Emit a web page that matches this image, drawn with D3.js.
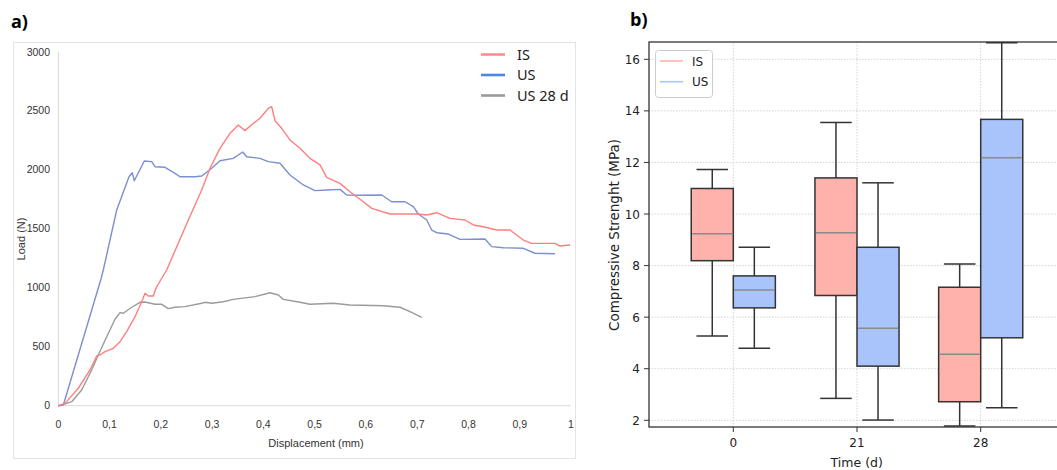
<!DOCTYPE html>
<html>
<head>
<meta charset="utf-8">
<script src="https://cdn.jsdelivr.net/npm/d3@7"></script>
<style>
  body { margin: 0; background: #fff; }
  svg { display: block; }
</style>
</head>
<body>
<div id="chart"></div>
<script>
// ---- panel a data : load vs displacement ----
const isDisp = [0, 0.0131, 0.039, 0.0618, 0.0749, 0.0813, 0.0911, 0.1073, 0.1203, 0.1334, 0.1496, 0.1627, 0.1691, 0.1755, 0.1853, 0.1919, 0.2114, 0.2536, 0.2797, 0.2959, 0.3154, 0.3349, 0.3511, 0.3641, 0.3803, 0.3934, 0.4096, 0.4162, 0.4227, 0.4357, 0.4519, 0.4714, 0.4909, 0.5104, 0.5235, 0.5494, 0.5689, 0.5949, 0.6113, 0.647, 0.7022, 0.7186, 0.7381, 0.764, 0.7933, 0.8094, 0.829, 0.8551, 0.881, 0.907, 0.9233, 0.9688, 0.9772, 0.9981]
const isLoad = [0, 20, 148, 303, 422, 430, 458, 487, 543, 628, 755, 882, 953, 930, 930, 1009, 1151, 1575, 1830, 2014, 2183, 2310, 2381, 2333, 2395, 2438, 2522, 2536, 2417, 2353, 2254, 2183, 2098, 2042, 1937, 1886, 1815, 1730, 1674, 1626, 1626, 1617, 1637, 1589, 1575, 1533, 1518, 1490, 1490, 1405, 1377, 1377, 1355, 1363]

const usDisp = [0, 0.0098, 0.0827, 0.0878, 0.1139, 0.1379, 0.1443, 0.1482, 0.1677, 0.1822, 0.1886, 0.2081, 0.2276, 0.2374, 0.2666, 0.2797, 0.2992, 0.3154, 0.3413, 0.3597, 0.3675, 0.3934, 0.4096, 0.4324, 0.4519, 0.4779, 0.5007, 0.5235, 0.5494, 0.5625, 0.5885, 0.6308, 0.6503, 0.6762, 0.6924, 0.7022, 0.7186, 0.7283, 0.7381, 0.7607, 0.7835, 0.8323, 0.8453, 0.868, 0.907, 0.9298, 0.9688]
const usLoad = [0, 6, 1066, 1151, 1660, 1942, 1976, 1908, 2075, 2070, 2027, 2022, 1971, 1942, 1942, 1948, 2014, 2078, 2098, 2152, 2112, 2098, 2070, 2056, 1957, 1872, 1824, 1830, 1835, 1787, 1785, 1787, 1730, 1730, 1688, 1626, 1575, 1490, 1467, 1456, 1411, 1414, 1349, 1340, 1335, 1293, 1289]

const us28Disp = [0, 0.0066, 0.0261, 0.0456, 0.0651, 0.078, 0.0944, 0.1106, 0.1203, 0.1268, 0.1432, 0.1594, 0.1691, 0.1886, 0.2017, 0.2146, 0.2276, 0.2471, 0.2797, 0.2861, 0.2992, 0.3218, 0.3413, 0.3837, 0.4129, 0.4291, 0.4389, 0.4714, 0.4909, 0.5364, 0.5689, 0.6339, 0.6665, 0.686, 0.7088]
const us28Load = [0, 6, 34, 133, 303, 430, 585, 733, 789, 784, 835, 877, 880, 860, 860, 823, 835, 840, 869, 877, 869, 882, 902, 925, 958, 939, 902, 877, 860, 869, 854, 848, 835, 797, 750]

const lineNames = ["IS", "US", "US 28 d"]
const xTicksA = [0, 0.1, 0.2, 0.3, 0.4, 0.5, 0.6, 0.7, 0.8, 0.9, 1]
const yTicksA = [0, 500, 1000, 1500, 2000, 2500, 3000]

// ---- panel b data : compressive strength boxes ----
const timeCats = ["0", "21", "28"]
const boxGroups = ["IS", "US"]
// [lower whisker, Q1, median, Q3, upper whisker]
const isBoxes = [[5.27, 8.19, 9.23, 10.99, 11.73], [2.85, 6.84, 9.27, 11.40, 13.55], [1.78, 2.72, 4.56, 7.16, 8.06]]
const usBoxes = [[4.79, 6.36, 7.05, 7.60, 8.71], [2.01, 4.10, 5.57, 8.71, 11.21], [2.49, 5.20, 12.18, 13.67, 16.64]]
const yTicksB = [2, 4, 6, 8, 10, 12, 14, 16]

const W = 1057, H = 470
const svg = d3.select("#chart").append("svg")
  .attr("width", W).attr("height", H)

const narrow = "'Liberation Sans Narrow', 'Arial Narrow', 'Liberation Sans', sans-serif"
const dv = "'DejaVu Sans', sans-serif"

// ================= panel a =================
svg.append("text").attr("x", 11).attr("y", 28)
  .attr("font-family", "'Open Sans', 'Liberation Sans', sans-serif")
  .attr("font-weight", "bold").attr("font-size", "18px").text("a)")

svg.append("rect").attr("x", 13.5).attr("y", 42.5).attr("width", 562).attr("height", 416)
  .attr("fill", "none").attr("stroke", "#e3e3e3")

const xa = d3.scaleLinear().domain([0, 1]).range([58.3, 571])
const ya = d3.scaleLinear().domain([0, 3000]).range([405.7, 52])

const ga = svg.append("g")

ga.append("line").attr("x1", xa(0)).attr("x2", xa(0)).attr("y1", ya(3000)).attr("y2", ya(0))
  .attr("stroke", "#d9d9d9")
ga.append("line").attr("x1", xa(0)).attr("x2", xa(1)).attr("y1", ya(0)).attr("y2", ya(0))
  .attr("stroke", "#d9d9d9")

ga.selectAll(".ylab").data(yTicksA).enter().append("text")
  .attr("x", 50).attr("y", d => ya(d) + 3.5)
  .attr("text-anchor", "end").attr("font-family", narrow).attr("font-size", "10.5px")
  .attr("fill", "#333").text(d => d)

ga.selectAll(".xlab").data(xTicksA).enter().append("text")
  .attr("x", d => xa(d)).attr("y", 428)
  .attr("text-anchor", "middle").attr("font-family", narrow).attr("font-size", "10.5px")
  .attr("fill", "#333").text(d => String(d).replace(".", ","))

ga.append("text").attr("x", 316).attr("y", 447).attr("text-anchor", "middle")
  .attr("font-family", narrow).attr("font-size", "11px").attr("fill", "#333")
  .text("Displacement (mm)")

ga.append("text").attr("transform", "translate(25,239) rotate(-90)").attr("text-anchor", "middle")
  .attr("font-family", narrow).attr("font-size", "11px").attr("fill", "#333")
  .text("Load (N)")

const lineA = d3.line().x(d => xa(d[0])).y(d => ya(d[1]))
const seriesA = [
  {name: lineNames[2], disp: us28Disp, load: us28Load, color: "#9a9a9a", legend: "#9a9a9a"},
  {name: lineNames[1], disp: usDisp, load: usLoad, color: "#7b8fd2", legend: "#4f86e6"},
  {name: lineNames[0], disp: isDisp, load: isLoad, color: "#ff7f7f", legend: "#ff8c8c"}
]
seriesA.forEach(s => {
  ga.append("path").datum(d3.zip(s.disp, s.load))
    .attr("d", lineA).attr("fill", "none")
    .attr("stroke", s.color).attr("stroke-width", 1.4).attr("stroke-linejoin", "round")
})

const legA = ga.append("g")
lineNames.forEach((n, i) => {
  const s = seriesA.find(t => t.name === n)
  legA.append("line").attr("x1", 481).attr("x2", 505).attr("y1", 54.5 + i * 20.5).attr("y2", 54.5 + i * 20.5)
    .attr("stroke", s.legend).attr("stroke-width", 2.6)
  legA.append("text").attr("x", 517).attr("y", 59.5 + i * 20.5)
    .attr("font-family", "'Noto Sans', 'Open Sans', sans-serif").attr("font-size", "14.5px")
    .attr("fill", "#222").text(n)
})

// ================= panel b =================
svg.append("text").attr("x", 630).attr("y", 26)
  .attr("font-family", "'Open Sans', 'Liberation Sans', sans-serif")
  .attr("font-weight", "bold").attr("font-size", "18px").text("b)")

const plotL = 649, plotT = 42, plotB = 427, plotR = 1075
const xb = d3.scalePoint().domain(timeCats).range([733.3, 980.7])
const yb = d3.scaleLinear().domain([2, 16]).range([420.3, 59.3])
const step = xb.step()
const bw = step * 0.34
const capW = bw * 0.75

const gb = svg.append("g")
gb.append("clipPath").attr("id", "clipb").append("rect")
  .attr("x", plotL).attr("y", plotT).attr("width", plotR - plotL).attr("height", plotB - plotT)

// grid
gb.selectAll(".gy").data(yTicksB).enter().append("line")
  .attr("x1", plotL).attr("x2", plotR).attr("y1", d => yb(d)).attr("y2", d => yb(d))
  .attr("stroke", "#c8c8c8").attr("stroke-width", 0.8).attr("stroke-dasharray", "1.5,1.5")
gb.selectAll(".gx").data(timeCats).enter().append("line")
  .attr("x1", d => xb(d)).attr("x2", d => xb(d)).attr("y1", plotT).attr("y2", plotB)
  .attr("stroke", "#c8c8c8").attr("stroke-width", 0.8).attr("stroke-dasharray", "1.5,1.5")

const boxColors = {IS: "#ffb1ab", US: "#a9c4fb"}
const boxes = gb.append("g").attr("clip-path", "url(#clipb)")
boxGroups.forEach((grp, gi) => {
  const stats = grp === "IS" ? isBoxes : usBoxes
  stats.forEach((st, ci) => {
    const cx = xb(timeCats[ci])
    const x0 = gi === 0 ? cx - bw : cx
    const mid = x0 + bw / 2
    const g = boxes.append("g")
    g.append("line").attr("x1", mid).attr("x2", mid).attr("y1", yb(st[0])).attr("y2", yb(st[1]))
      .attr("stroke", "#333").attr("stroke-width", 1.5)
    g.append("line").attr("x1", mid).attr("x2", mid).attr("y1", yb(st[3])).attr("y2", yb(st[4]))
      .attr("stroke", "#333").attr("stroke-width", 1.5)
    g.selectAll(".cap").data([st[0], st[4]]).enter().append("line")
      .attr("x1", mid - capW / 2).attr("x2", mid + capW / 2)
      .attr("y1", d => yb(d)).attr("y2", d => yb(d))
      .attr("stroke", "#333").attr("stroke-width", 1.5)
    g.append("rect").attr("x", x0).attr("y", yb(st[3]))
      .attr("width", bw).attr("height", yb(st[1]) - yb(st[3]))
      .attr("fill", boxColors[grp]).attr("stroke", "#333").attr("stroke-width", 1.5)
    g.append("line").attr("x1", x0 + 1).attr("x2", x0 + bw - 1)
      .attr("y1", yb(st[2])).attr("y2", yb(st[2]))
      .attr("stroke", "#8a8a8a").attr("stroke-width", 1.5)
  })
})

// frame
gb.append("rect").attr("x", plotL).attr("y", plotT).attr("width", plotR - plotL).attr("height", plotB - plotT)
  .attr("fill", "none").attr("stroke", "#333").attr("stroke-width", 1.3)

// ticks
gb.selectAll(".ty").data(yTicksB).enter().append("line")
  .attr("x1", plotL - 5).attr("x2", plotL).attr("y1", d => yb(d)).attr("y2", d => yb(d))
  .attr("stroke", "#333")
gb.selectAll(".tyl").data(yTicksB).enter().append("text")
  .attr("x", plotL - 9).attr("y", d => yb(d) + 4.5).attr("text-anchor", "end")
  .attr("font-family", dv).attr("font-size", "12px").attr("fill", "#222").text(d => d)
gb.selectAll(".tx").data(timeCats).enter().append("line")
  .attr("x1", d => xb(d)).attr("x2", d => xb(d)).attr("y1", plotB).attr("y2", plotB + 5)
  .attr("stroke", "#333")
gb.selectAll(".txl").data(timeCats).enter().append("text")
  .attr("x", d => xb(d)).attr("y", 447).attr("text-anchor", "middle")
  .attr("font-family", dv).attr("font-size", "12px").attr("fill", "#222").text(d => d)

gb.append("text").attr("x", 856.7).attr("y", 467).attr("text-anchor", "middle")
  .attr("font-family", dv).attr("font-size", "12.5px").attr("fill", "#222").text("Time (d)")
gb.append("text").attr("transform", "translate(619,235) rotate(-90)").attr("text-anchor", "middle")
  .attr("font-family", dv).attr("font-size", "13.5px").attr("fill", "#222")
  .text("Compressive Strenght (MPa)")

// legend
const legB = gb.append("g")
legB.append("rect").attr("x", 655.5).attr("y", 50.5).attr("width", 57).attr("height", 47).attr("rx", 3)
  .attr("fill", "#fff").attr("fill-opacity", 0.85).attr("stroke", "#cccccc")
boxGroups.forEach((grp, i) => {
  legB.append("line").attr("x1", 660).attr("x2", 683).attr("y1", 61 + i * 20.7).attr("y2", 61 + i * 20.7)
    .attr("stroke", boxColors[grp]).attr("stroke-width", 1.6)
  legB.append("text").attr("x", 692).attr("y", 65.5 + i * 20.7)
    .attr("font-family", dv).attr("font-size", "12px").attr("fill", "#222").text(grp)
})
</script>
</body>
</html>
